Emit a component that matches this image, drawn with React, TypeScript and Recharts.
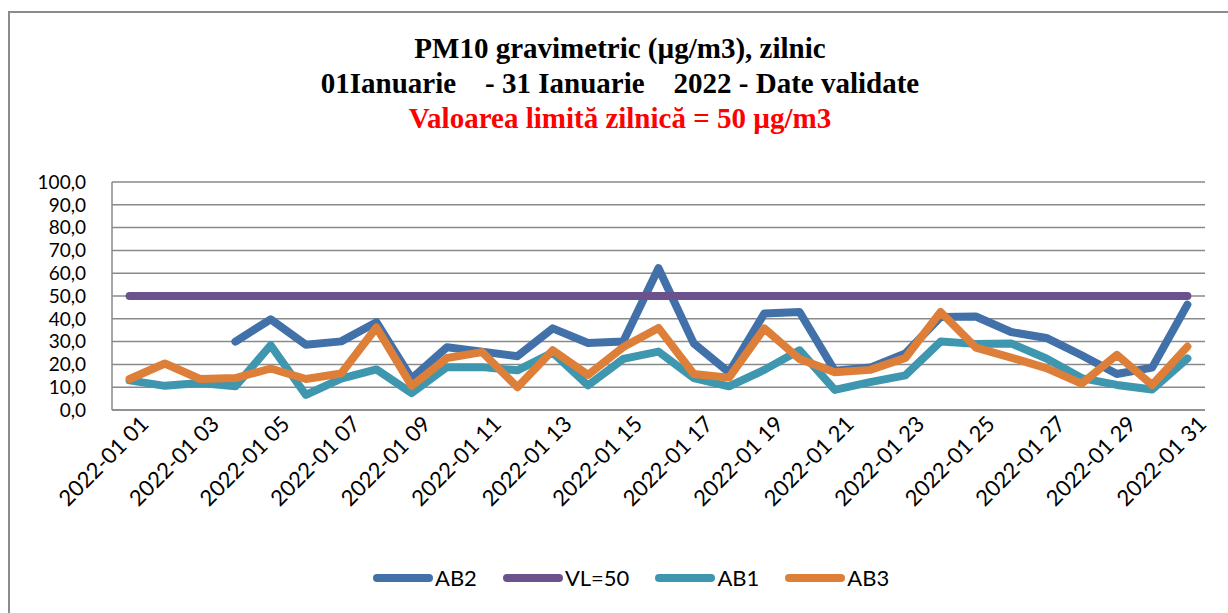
import React from "react";
import { LineChart, Line, XAxis, YAxis, CartesianGrid } from "recharts";

const dates = [
  "2022-01 01", "2022-01 02", "2022-01 03", "2022-01 04", "2022-01 05",
  "2022-01 06", "2022-01 07", "2022-01 08", "2022-01 09", "2022-01 10",
  "2022-01 11", "2022-01 12", "2022-01 13", "2022-01 14", "2022-01 15",
  "2022-01 16", "2022-01 17", "2022-01 18", "2022-01 19", "2022-01 20",
  "2022-01 21", "2022-01 22", "2022-01 23", "2022-01 24", "2022-01 25",
  "2022-01 26", "2022-01 27", "2022-01 28", "2022-01 29", "2022-01 30",
  "2022-01 31",
];

const ab2 = [
  null, null, null, 30.0, 39.8, 28.6, 30.1, 38.5, 13.8, 27.5,
  25.6, 23.6, 35.8, 29.4, 30.0, 62.2, 29.2, 16.5, 42.3, 43.0,
  17.2, 18.6, 24.8, 40.8, 41.0, 34.2, 31.6, 24.0, 15.8, 18.6,
  46.2,
];

const vl = [
  50, 50, 50, 50, 50, 50, 50, 50, 50, 50,
  50, 50, 50, 50, 50, 50, 50, 50, 50, 50,
  50, 50, 50, 50, 50, 50, 50, 50, 50, 50,
  50,
];

const ab1 = [
  13.0, 10.6, 11.8, 10.4, 28.4, 6.6, 13.8, 17.8, 7.4, 18.8,
  18.8, 17.4, 25.2, 10.8, 22.4, 25.6, 14.0, 10.4, 17.6, 26.2,
  8.8, 12.2, 15.2, 30.0, 29.0, 29.2, 22.6, 14.0, 11.0, 9.0,
  22.6,
];

const ab3 = [
  13.6, 20.4, 13.6, 14.0, 18.2, 13.6, 16.0, 36.2, 10.6, 22.8,
  25.4, 10.0, 26.2, 15.4, 27.6, 36.0, 15.8, 14.2, 35.8, 22.4,
  16.6, 17.6, 22.8, 43.0, 27.4, 23.0, 18.4, 11.6, 24.2, 11.0,
  27.8,
];

const yTicks = [0, 10, 20, 30, 40, 50, 60, 70, 80, 90, 100];

const series = [
  { key: "AB2", name: "AB2", color: "#4270A8" },
  { key: "VL", name: "VL=50", color: "#6C528C" },
  { key: "AB1", name: "AB1", color: "#3E97AF" },
  { key: "AB3", name: "AB3", color: "#DD7F38" },
];

const data = dates.map((d, i) => ({
  date: d,
  AB2: ab2[i],
  VL: vl[i],
  AB1: ab1[i],
  AB3: ab3[i],
}));

const FONT = "Lato, 'Open Sans', sans-serif";

function DateTick({ x, y, payload }: any) {
  const tx = x + 15;
  const ty = y + 2;
  return (
    <text
      x={tx}
      y={ty}
      transform={`rotate(-45 ${tx} ${ty})`}
      textAnchor="end"
      dy="0.35em"
      fontFamily={FONT}
      fontSize={22}
      fill="#000"
    >
      {payload.value}
    </text>
  );
}

export default function App() {
  return (
    <div
      style={{
        position: "absolute",
        left: 0,
        top: 0,
        width: 1228,
        height: 613,
        overflow: "hidden",
        background: "#fff",
      }}
    >
      <div
        style={{
          position: "absolute",
          left: 8,
          top: 11,
          width: 1300,
          height: 700,
          border: "2px solid #8c8c8c",
        }}
      />
      <div
        style={{
          position: "absolute",
          left: 0,
          width: 1240,
          top: 31,
          textAlign: "center",
          fontFamily: "'Liberation Serif', 'Times New Roman', serif",
          fontWeight: "bold",
          fontSize: 29,
          lineHeight: "35px",
          color: "#000",
        }}
      >
        <div>PM10 gravimetric (µg/m3), zilnic</div>
        <div style={{ whiteSpace: "pre" }}>01Ianuarie    - 31 Ianuarie    2022 - Date validate</div>
        <div style={{ color: "#FF0000" }}>Valoarea limită zilnică = 50 µg/m3</div>
      </div>

      <div style={{ position: "absolute", left: 0, top: 0 }}>
        <LineChart
          width={1228}
          height={613}
          data={data}
          margin={{ top: 182, right: 23, bottom: 83, left: 26 }}
        >
          <CartesianGrid
            vertical={false}
            stroke="#8a8a8a"
            strokeWidth={1.5}
          />
          <XAxis
            dataKey="date"
            interval={1}
            padding={{ left: 17.6, right: 17.6 }}
            tickLine={false}
            axisLine={{ stroke: "#8a8a8a", strokeWidth: 1.5 }}
            tick={<DateTick />}
            height={120}
          />
          <YAxis
            width={86}
            domain={[0, 100]}
            ticks={yTicks}
            interval={0}
            tickLine={false}
            tickSize={0}
            tickMargin={26}
            axisLine={{ stroke: "#8a8a8a", strokeWidth: 1.5 }}
            tickFormatter={(v: number) => v.toFixed(1).replace(".", ",")}
            tick={{ fontFamily: FONT, fontSize: 19, fill: "#000" }}
          />
          {series.map((s) => (
            <Line
              key={s.key}
              type="linear"
              dataKey={s.key}
              name={s.name}
              stroke={s.color}
              strokeWidth={8}
              strokeLinecap="round"
              strokeLinejoin="round"
              dot={false}
              activeDot={false}
              connectNulls={false}
              isAnimationActive={false}
            />
          ))}
        </LineChart>
      </div>

      <div
        style={{
          position: "absolute",
          left: 373,
          top: 564,
          display: "flex",
          alignItems: "center",
          fontFamily: FONT,
          fontSize: 22,
          color: "#000",
        }}
      >
        {series.map((s) => (
          <div
            key={s.key}
            style={{ display: "flex", alignItems: "center", marginRight: 26 }}
          >
            <span
              style={{
                display: "inline-block",
                width: 60,
                height: 8,
                borderRadius: 4,
                background: s.color,
                marginRight: 2,
              }}
            />
            <span>{s.name}</span>
          </div>
        ))}
      </div>
    </div>
  );
}
